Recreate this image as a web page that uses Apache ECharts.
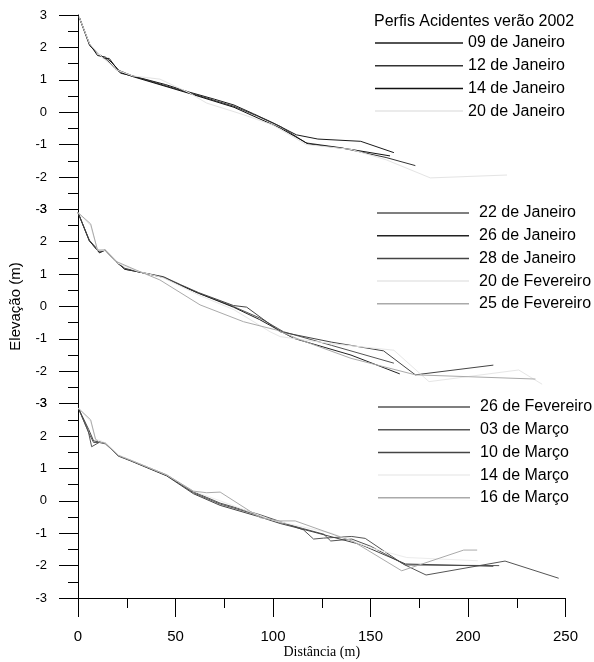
<!DOCTYPE html>
<html>
<head>
<meta charset="utf-8">
<script src="https://cdn.jsdelivr.net/npm/echarts@6/dist/echarts.min.js"></script>
<style>
  html, body { margin: 0; padding: 0; background: #fff; }
  #chart { width: 594px; height: 662px; }
</style>
</head>
<body>
<div id="chart"></div>
<script>
// eixo x e y
var xTicks = [0, 50, 100, 150, 200, 250];
var yTicks = [-3, -2, -1, 0, 1, 2, 3];

// painel 1 - janeiro
var jan09 = [[0.7,2.93],[6,2.07],[9,1.9],[13,1.66],[16,1.66],[20.5,1.3],[28,1.12],[45,0.85],[57,0.62],[70,0.4],[80,0.22],[90,-0.05],[100,-0.33],[112,-0.7],[123,-0.83],[145,-0.9],[162,-1.25]];
var jan12 = [[0.5,2.95],[6,2.05],[11,1.78],[15,1.6],[19,1.35],[22,1.2],[28,1.12],[57,0.6],[80,0.18],[92,-0.12],[104,-0.45],[117,-0.95],[135,-1.1],[158,-1.4],[173,-1.65]];
var jan14 = [[0.8,2.9],[6,2.1],[10,1.75],[14,1.7],[17,1.55],[22,1.22],[28,1.1],[57,0.58],[80,0.15],[104,-0.5],[118,-0.98],[140,-1.15],[160,-1.35]];
var jan20 = [[0.5,2.95],[6,2.1],[12,1.72],[20,1.3],[28,1.12],[42,1.02],[57,0.6],[66,0.28],[85,-0.08],[100,-0.4],[117,-1.0],[140,-1.15],[158,-1.47],[180.7,-2.03],[220,-1.94]];

// painel 2 - janeiro / fevereiro
var jan22 = [[0,2.9],[5.8,2.03],[11,1.66],[13.9,1.74],[19,1.41],[24,1.15],[31,1.07],[43.8,0.9],[52.4,0.66],[61.8,0.41],[79.7,0.0],[93.4,-0.36],[105.4,-0.78],[130,-1.2],[162,-1.75]];
var jan26 = [[0,2.9],[5.8,2.03],[11,1.66],[13.9,1.74],[19,1.41],[24,1.15],[31,1.07],[43.8,0.9],[52.4,0.66],[61.8,0.41],[79.7,-0.02],[93,-0.4],[110.5,-0.98],[140,-1.5],[165,-2.08]];
var jan28 = [[0,2.9],[5.8,2.05],[11,1.7],[13.9,1.74],[19,1.4],[24,1.18],[31,1.07],[43.8,0.92],[52.4,0.68],[61.8,0.43],[79.7,0.03],[86.5,-0.02],[103.7,-0.78],[130,-1.1],[156.7,-1.37],[173,-2.11],[213,-1.81]];
var fev20 = [[0,2.9],[6.5,2.5],[10,1.74],[14,1.72],[20,1.35],[30,1.1],[44,0.88],[62,0.35],[80,-0.1],[98.5,-0.78],[103.7,-0.93],[130,-1.15],[162,-1.35],[180,-2.32],[226,-1.96],[238,-2.4]];
var fev25 = [[0,2.9],[6.5,2.55],[10,1.74],[14,1.75],[20,1.38],[30,1.12],[42,0.82],[62.6,0.05],[84.9,-0.47],[102,-0.73],[114,-1.03],[140,-1.6],[173,-2.11],[234.6,-2.24]];

// painel 3 - fevereiro / março
var fev26 = [[0.2,2.86],[5.3,2.14],[7,1.67],[11,1.81],[13.9,1.78],[20.7,1.4],[26.7,1.26],[45.5,0.8],[59.2,0.28],[72.9,-0.07],[93.4,-0.43],[103.7,-0.64],[115.7,-0.9],[120.8,-1.18],[126,-1.15],[140.4,-1.1],[147.3,-1.16],[167,-1.96],[178.5,-2.29],[219,-1.86],[246.5,-2.39]];
var mar03 = [[0.2,2.86],[5.5,2.1],[8,1.8],[11,1.8],[14,1.76],[20.7,1.4],[26.7,1.25],[45.5,0.78],[59.2,0.25],[72.9,-0.1],[93.4,-0.46],[103.7,-0.66],[115,-0.85],[126,-1.03],[129.6,-1.24],[140.4,-1.18],[150,-1.4],[168,-1.98],[216,-2.0]];
var mar10 = [[0.2,2.86],[5.5,2.2],[8,1.85],[11,1.82],[14,1.78],[20.7,1.38],[26.7,1.24],[45.5,0.77],[59.2,0.22],[72.9,-0.14],[93.4,-0.5],[103.7,-0.7],[120,-0.95],[145,-1.35],[168,-1.95],[213,-2.02]];
var mar14 = [[0.2,2.86],[6.5,2.45],[9,1.9],[12,1.85],[15,1.75],[20.7,1.42],[26.7,1.27],[45.5,0.8],[59.2,0.3],[72.9,0.0],[100,-0.6],[130,-1.0],[150,-1.45],[168.6,-1.75],[205,-1.85]];
var mar16 = [[0.2,2.86],[6.5,2.5],[9,1.9],[11,1.81],[14,1.78],[20.7,1.4],[26.7,1.26],[45.5,0.8],[59.2,0.3],[66,0.25],[72.9,0.27],[93.4,-0.52],[102.8,-0.62],[111.4,-0.62],[141.3,-1.26],[166,-2.16],[197.8,-1.52],[204.7,-1.52]];

var painel1 = [['09 de Janeiro', jan09, '#1a1a1a'], ['12 de Janeiro', jan12, '#333333'], ['14 de Janeiro', jan14, '#111111'], ['20 de Janeiro', jan20, '#e4e4e4']];
var painel2 = [['22 de Janeiro', jan22, '#555555'], ['26 de Janeiro', jan26, '#222222'], ['28 de Janeiro', jan28, '#444444'], ['20 de Fevereiro', fev20, '#e6e6e6'], ['25 de Fevereiro', fev25, '#aaaaaa']];
var painel3 = [['26 de Fevereiro', fev26, '#555555'], ['03 de Março', mar03, '#555555'], ['10 de Março', mar10, '#444444'], ['14 de Março', mar14, '#ececec'], ['16 de Março', mar16, '#aaaaaa']];

var fonte = 'Liberation Sans, Arial, sans-serif';
var topo = 15, alt = 583 / 3;

function eixoY(i) {
  return {
    type: 'value', gridIndex: i, min: -3, max: 3, interval: 1,
    axisLine: { show: true, lineStyle: { color: '#000', width: 1 } },
    axisTick: { show: true, length: 19, lineStyle: { color: '#000' } },
    minorTick: { show: true, splitNumber: 2, length: 10, lineStyle: { color: '#000' } },
    splitLine: { show: false },
    axisLabel: { color: '#000', fontSize: 13, fontFamily: fonte, margin: 31, showMinLabel: true, showMaxLabel: true },
    name: i === 1 ? 'Elevação (m)' : '',
    nameLocation: 'middle', nameGap: 55,
    nameTextStyle: { color: '#000', fontSize: 15, fontFamily: fonte }
  };
}

function eixoX(i) {
  var ultimo = i === 2;
  return {
    type: 'value', gridIndex: i, min: 0, max: 250, interval: 50,
    axisLine: { show: ultimo, onZero: false, lineStyle: { color: '#000', width: 1 } },
    axisTick: { show: ultimo, length: 19, lineStyle: { color: '#000' } },
    minorTick: { show: ultimo, splitNumber: 2, length: 10, lineStyle: { color: '#000' } },
    splitLine: { show: false },
    axisLabel: { show: ultimo, color: '#000', fontSize: 15, fontFamily: fonte, margin: 31 },
    name: ultimo ? 'Distância (m)' : '',
    nameLocation: 'middle', nameGap: 47,
    nameTextStyle: { color: '#000', fontSize: 14, fontFamily: 'Liberation Serif, Times New Roman, serif' }
  };
}

var series = [];
[painel1, painel2, painel3].forEach(function (p, i) {
  p.forEach(function (s) {
    series.push({
      name: s[0], type: 'line', xAxisIndex: i, yAxisIndex: i,
      data: s[1], showSymbol: false, symbol: 'none',
      lineStyle: { color: s[2], width: 1 }, itemStyle: { color: s[2] }
    });
  });
});

function legenda(p, left, top, w, pad) {
  return {
    orient: 'vertical', left: left, top: top, padding: 0,
    icon: 'rect', itemWidth: w, itemHeight: 1.5, itemGap: 6.7,
    data: p.map(function (s) { return s[0]; }),
    textStyle: { color: '#000', fontSize: 16, fontFamily: fonte, padding: [0, 0, 0, pad] },
    selectedMode: false
  };
}

var chart = echarts.init(document.getElementById('chart'));
chart.setOption({
  backgroundColor: '#fff',
  animation: false,
  title: {
    text: 'Perfis Acidentes verão 2002', left: 374, top: 14, padding: 0,
    textStyle: { color: '#000', fontSize: 16, fontWeight: 'normal', fontFamily: fonte }
  },
  grid: [0, 1, 2].map(function (i) {
    return { left: 78, right: 28.5, top: topo + i * alt, height: alt };
  }),
  xAxis: [eixoX(0), eixoX(1), eixoX(2)],
  yAxis: [eixoY(0), eixoY(1), eixoY(2)],
  legend: [
    legenda(painel1, 375, 35, 88, 0),
    legenda(painel2, 377, 205, 92, 5),
    legenda(painel3, 378, 399, 92, 5)
  ],
  series: series
});
</script>
</body>
</html>
